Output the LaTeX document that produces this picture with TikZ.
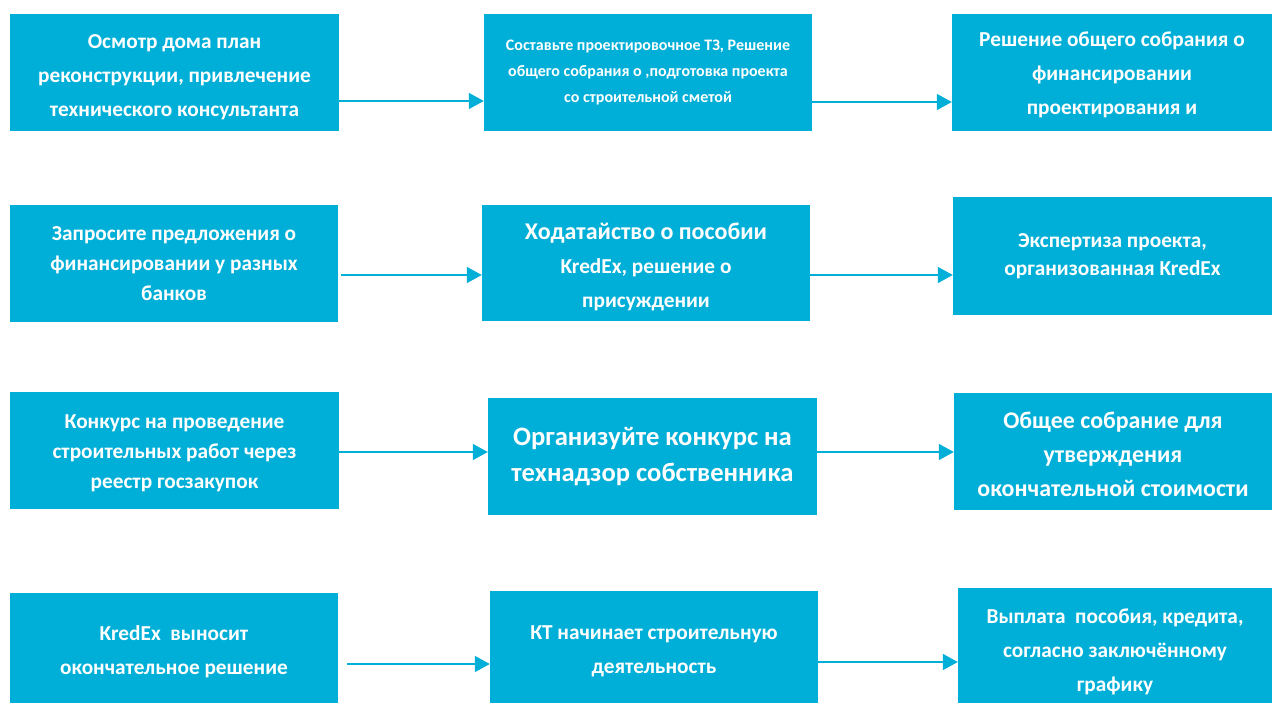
\documentclass[tikz,border=0pt]{standalone}
\usepackage{fontspec}
\setmainfont{Carlito}
\usepackage{tikz}
\usepackage{xcolor}
\usetikzlibrary{arrows.meta}

\definecolor{kredblue}{RGB}{0,175,215}
\newcommand{\topgap}[1]{\rule{0pt}{#1}}
\tikzset{
  stage/.style={fill=kredblue, text=white, inner sep=0pt, align=center,
    minimum width=328pt, minimum height=117pt,
    font=\bfseries\fontsize{21.3}{34}\selectfont},
  flow/.style={draw=kredblue, line width=1.6pt, -{Triangle[length=15pt,width=16pt]}}
}

\begin{document}
\begin{tikzpicture}[x=1pt,y=-1pt]
\clip (0,0) rectangle (1274,703);

% first row
\node[stage, minimum width=329pt] (osmotr) at (174.5,72.5) {\topgap{24pt}Осмотр дома план\\реконструкции, привлечение\\технического консультанта};
\node[stage, font=\bfseries\fontsize{16}{26}\selectfont] (sostav) at (648,72.5) {Составьте проектировочное ТЗ, Решение\\общего собрания о ,подготовка проекта\\со строительной сметой};
\node[stage, minimum width=320pt] (finans) at (1112,72.5) {\topgap{20pt}Решение общего собрания о\\финансировании\\проектирования и};

% second row
\node[stage, font=\bfseries\fontsize{21.3}{30}\selectfont] (zapros) at (174,263.5) {Запросите предложения о\\финансировании у разных\\банков};
\node[stage, minimum height=116pt] (hodat) at (646,263) {\topgap{25pt}{\fontsize{24}{34}\selectfont Ходатайство о пособии}\\KredEx, решение о\\присуждении};
\node[stage, minimum width=319pt, minimum height=118pt, font=\bfseries\fontsize{21.3}{28}\selectfont] (ekspert) at (1112.5,256) {Экспертиза проекта,\\организованная KredEx};

% third row
\node[stage, minimum width=329pt, font=\bfseries\fontsize{21.3}{30}\selectfont] (konkurs) at (174.5,450.5) {\topgap{19pt}Конкурс на проведение\\строительных работ через\\реестр госзакупок};
\node[stage, minimum width=329pt, font=\bfseries\fontsize{26.6}{36}\selectfont] (tehnadzor) at (652.5,456.5) {Организуйте конкурс на\\технадзор собственника};
\node[stage, minimum width=318pt, font=\bfseries\fontsize{23.9}{34}\selectfont] (sobranie) at (1113,451.5) {\topgap{23pt}Общее собрание для\\утверждения\\окончательной стоимости};

% fourth row
\node[stage] (vynosit) at (174,651.5) {KredEx\ \ выносит\\окончательное решение};
\node[stage] (nachinaet) at (654,649.5) {\topgap{18pt}КТ начинает строительную\\деятельность};
\node[stage, minimum width=314pt] (vyplata) at (1115,646.5) {\topgap{25pt}Выплата\ \ пособия, кредита,\\согласно заключённому\\графику};

% arrows
\draw[flow] (osmotr.east |- 0,101) -- (sostav.west |- 0,101);
\draw[flow] (sostav.east |- 0,102) -- (finans.west |- 0,102);
\draw[flow, shorten <=3pt] (zapros.east |- 0,275) -- (hodat.west |- 0,275);
\draw[flow] (hodat.east |- 0,275) -- (ekspert.west |- 0,275);
\draw[flow] (konkurs.east |- 0,452) -- (tehnadzor.west |- 0,452);
\draw[flow] (tehnadzor.east |- 0,452) -- (sobranie.west |- 0,452);
\draw[flow, shorten <=9pt] (vynosit.east |- 0,664) -- (nachinaet.west |- 0,664);
\draw[flow] (nachinaet.east |- 0,662) -- (vyplata.west |- 0,662);

\end{tikzpicture}
\end{document}
